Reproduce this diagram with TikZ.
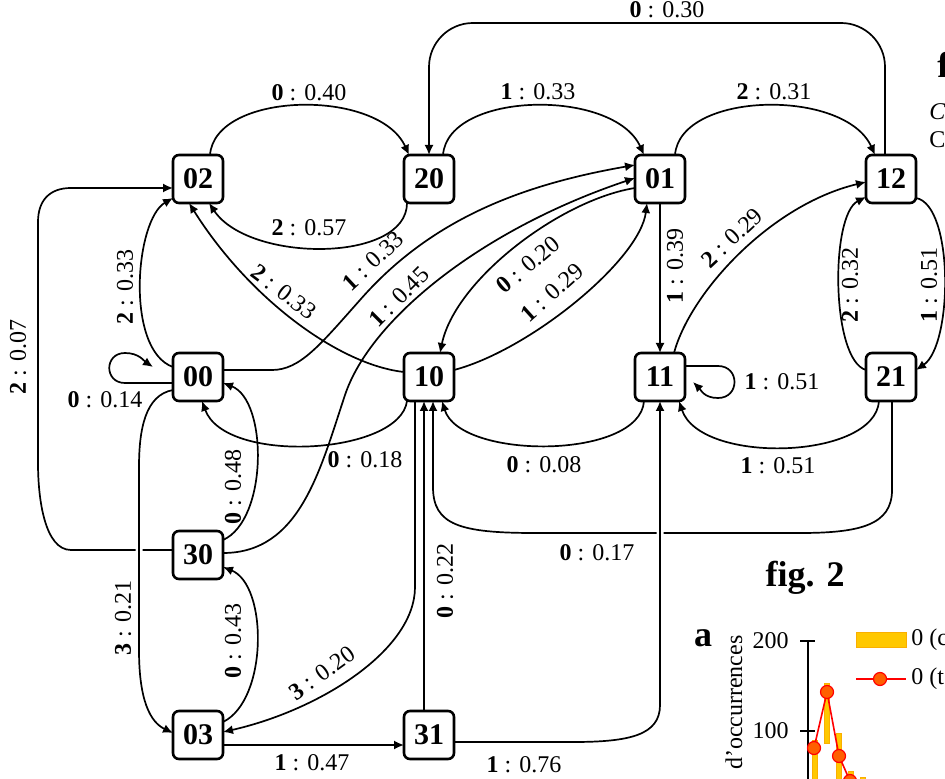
\documentclass[tikz,border=0pt]{standalone}
\usepackage{fontspec}
\setmainfont{Liberation Serif}
\usetikzlibrary{arrows.meta,positioning,calc,backgrounds}
\definecolor{barfill}{RGB}{255,200,0}
\definecolor{baredge}{RGB}{250,175,0}
\definecolor{dotfill}{RGB}{255,95,0}
\definecolor{dotline}{RGB}{255,0,0}
\newcommand{\tlab}[2]{\textbf{#1} : #2}

\begin{document}
\begin{tikzpicture}[
    x=0.5pt, y=0.5pt,
    node distance=75pt and 90.5pt,
    statebox/.style={rectangle, rounded corners=3pt, draw, line width=1.3pt, fill=white, outer sep=0pt,
                 minimum width=25pt, minimum height=24pt, inner sep=0pt, font=\fontsize{15}{15}\selectfont\bfseries},
    lbl/.style={inner sep=0pt, font=\fontsize{12}{12}\selectfont},
    bigtxt/.style={inner sep=0pt, font=\fontsize{18}{18}\selectfont\bfseries},
    arr/.style={-{Latex[length=5pt,width=4.5pt]}, line width=0.85pt},
    overpass/.style={preaction={draw=white, line width=3.5pt}}
]
\useasboundingbox (0,0) rectangle (945,-779);
\node[statebox] (n02) at (198,-179) {02};
\node[statebox, right=of n02] (n20) {20};
\node[statebox, right=of n20] (n01) {01};
\node[statebox, right=of n01] (n12) {12};
\node[statebox, below=of n02] (n00) {00};
\node[statebox, right=of n00] (n10) {10};
\node[statebox, right=of n10] (n11) {11};
\node[statebox, right=of n11] (n21) {21};
\node[statebox, below=65pt of n00] (n30) {30};
\node[statebox, below=66pt of n30] (n03) {03};
\node[statebox, right=of n03] (n31) {31};

\begin{scope}[on background layer]
\draw[arr] ($(n02.north)+(12,0)$) .. controls +(5,64) and +(-30,67) .. ($(n20.north)+(-20,0)$)
    node[lbl] at (309,-93) {\tlab{0}{0.40}};
\draw[arr] ($(n20.south)+(-22,0)$) .. controls +(0,-60) and +(40,-60) .. ($(n02.south)+(11,0)$)
    node[lbl] at (309,-228) {\tlab{2}{0.57}};
\draw[arr] ($(n20.north)+(14,0)$) .. controls +(5,64) and +(-30,67) .. ($(n01.north)+(-16,0)$)
    node[lbl] at (538,-92) {\tlab{1}{0.33}};
\draw[arr] ($(n01.north)+(15,0)$) .. controls +(5,64) and +(-30,67) .. ($(n12.north)+(-16,0)$)
    node[lbl] at (774,-92) {\tlab{2}{0.31}};
\draw[arr, rounded corners=22pt] ($(n12.north)+(-6,0)$) |- ($(n20.north)+(0,132)$) -- (n20.north)
    node[lbl] at (667,-10) {\tlab{0}{0.30}};
\draw[arr] ($(n12.south east)+(0,5)$) .. controls +(38,-7) and +(37,25) .. ($(n21.east)+(0,7)$)
    node[lbl, rotate=90] at (929,-285) {\tlab{1}{0.51}};
\draw[arr] ($(n21.west)+(0,7)$) .. controls +(-35,10) and +(-36,-18) .. ($(n12.west)+(0,-18)$)
    node[lbl, rotate=90] at (850,-285) {\tlab{2}{0.32}};
\draw[arr] ($(n11.east)+(0,11)$) -- ++(33,0) .. controls +(22,0) and +(22,0) .. ++(0,-32)
    .. controls +(-14,0) and +(8,-8) .. ($(n11.east)+(8,-5)$)
    node[lbl] at (782,-382) {\tlab{1}{0.51}};
\draw[arr] (n01) -- (n11)
    node[lbl, rotate=90] at (675,-266) {\tlab{1}{0.39}};
\draw[arr] ($(n11.north)+(14,0)$) .. controls +(16,60) and +(-96,-23) .. ($(n12.west)+(0,-3)$)
    node[lbl, rotate=43] at (732,-238) {\tlab{2}{0.29}};
\draw[arr] ($(n10.east)+(0,7)$) .. controls +(76,20) and +(-7,-57) .. ($(n01.south)+(-13,0)$)
    node[lbl, rotate=42] at (552,-293) {\tlab{1}{0.29}};
\draw[arr] ($(n01.west)+(0,-9)$) .. controls +(-75,-12) and +(15,73) .. ($(n10.north)+(11,0)$)
    node[lbl, rotate=40] at (528,-265) {\tlab{0}{0.20}};
\draw[arr] ($(n00.east)+(0,7)$) -- (272,-370) .. controls (300,-370) and (320,-345) .. (360,-300)
    .. controls (430,-220) and (520,-185) .. ($(n01.west)+(0,14)$)
    node[lbl, rotate=43] at (373,-261) {\tlab{1}{0.33}};
\draw[arr] ($(n30.east)+(0,2)$) .. controls (300,-553) and (320,-470) .. (345,-395)
    .. controls (370,-320) and (480,-230) .. ($(n01.west)+(0,1)$)
    node[lbl, rotate=45] at (399,-297) {\tlab{1}{0.45}};
\draw[arr] ($(n10.west)+(0,5)$) .. controls (340,-365) and (250,-300) .. ($(n02.south)+(-9,0)$)
    node[lbl, rotate=-37] at (284,-292) {\tlab{2}{0.33}};
\draw[arr] ($(n00.west)+(0,10)$) .. controls +(-48,17) and +(-38,-22) .. ($(n02.south west)+(0,5)$)
    node[lbl, rotate=90] at (125,-287) {\tlab{2}{0.33}};
\draw[arr] ($(n30.west)+(0,5)$) -- (71,-550) .. controls (45,-550) and (38,-500) .. (38,-463) -- (38,-222)
    .. controls (38,-200) and (50,-188) .. (71,-188) -- ($(n02.west)+(0,-9)$)
    node[lbl, rotate=90] at (18,-357) {\tlab{2}{0.07}};
\draw[arr] ($(n00.west)+(0,-6)$) -- ++(-48,0) .. controls +(-21,0) and +(-21,0) .. ++(0,30)
    .. controls +(14,0) and +(-9,6) .. ($(n00.west)+(-20,10)$)
    node[lbl] at (105,-400) {\tlab{0}{0.14}};
\draw[arr, overpass] ($(n00.west)+(0,-13)$) .. controls (145,-395) and (139,-430) .. (139,-467) -- (139,-650)
    .. controls (139,-700) and (150,-722) .. ($(n03.west)+(0,2)$)
    node[lbl, rotate=90] at (123,-618) {\tlab{3}{0.21}};
\draw[arr] ($(n30.east)+(0,15)$) .. controls (268,-520) and (268,-400) .. ($(n00.east)+(0,-6)$)
    node[lbl, rotate=90] at (233,-487) {\tlab{0}{0.48}};
\draw[arr] ($(n10.south)+(-22,0)$) .. controls (400,-455) and (225,-465) .. ($(n00.south)+(4,0)$)
    node[lbl] at (365,-460) {\tlab{0}{0.18}};
\draw[arr] ($(n03.east)+(0,13)$) .. controls (268,-700) and (268,-585) .. ($(n30.east)+(0,-12)$)
    node[lbl, rotate=90] at (233,-641) {\tlab{0}{0.43}};
\draw[arr] ($(n10.south)+(-14,0)$) -- (415,-587) .. controls (415,-650) and (320,-710) .. ($(n03.east)+(0,3)$)
    node[lbl, rotate=36] at (322,-673) {\tlab{3}{0.20}};
\draw[arr] ($(n31.north)+(-5,0)$) -- ($(n10.south)+(-5,0)$)
    node[lbl, rotate=90] at (445,-581) {\tlab{0}{0.22}};
\draw[arr] ($(n11.south)+(-16,0)$) .. controls (640,-460) and (460,-460) .. ($(n10.south)+(13,0)$)
    node[lbl] at (544,-465) {\tlab{0}{0.08}};
\draw[arr] ($(n21.south)+(-12,0)$) .. controls (875,-460) and (700,-465) .. ($(n11.south)+(19,0)$)
    node[lbl] at (778,-466) {\tlab{1}{0.51}};
\draw[arr] ($(n21.south)+(1,0)$) -- (892,-490) .. controls (892,-525) and (860,-533) .. (800,-533) -- (535,-533)
    .. controls (460,-533) and (433,-525) .. (433,-487) -- ($(n10.south)+(4,0)$)
    node[lbl] at (597,-553) {\tlab{0}{0.17}};
\draw[arr, overpass] ($(n31.east)+(0,-7)$) -- (573,-742) .. controls (630,-742) and (660,-735) .. (660,-705) -- (n11.south)
    node[lbl] at (524,-765) {\tlab{1}{0.76}};
\draw[arr] ($(n03.east)+(0,-10)$) -- ($(n31.west)+(0,-10)$)
    node[lbl] at (312,-763) {\tlab{1}{0.47}};
\end{scope}

\node[bigtxt, anchor=base west] (fig1) at (937,-78) {f};
\node[lbl, anchor=west] (capa) at (929,-112) {\textit{C}};
\node[lbl, anchor=west] (capb) at (929,-140) {C};

\node[bigtxt] (fig2) at (805,-578) {fig. 2};
\node[bigtxt] (pa) at (703,-638) {a};
\node[lbl, rotate=90, anchor=east] (ylab) at (734,-635) {d’occurrences};
\node[lbl, anchor=east] (t200) at (789,-641) {200};
\node[lbl, anchor=east] (t100) at (789,-731) {100};
\draw[line width=0.6pt] (808,-641) -- (808,-790);
\draw[line width=0.6pt] (800,-641) -- (815,-641);
\draw[line width=0.6pt] (800,-731) -- (815,-731);
\foreach \xl/\h in {812/740, 824/683, 836/733, 848/771, 860/777}
    \filldraw[fill=barfill, draw=baredge, line width=0.3pt] (\xl,-\h) rectangle ++(5,-60);
\draw[dotline, line width=0.8pt] (814,-748) -- (827,-692) -- (839,-756) -- (850,-781) -- (862,-795);
\foreach \px/\py in {814/748, 827/692, 839/756, 850/781}
    \filldraw[fill=dotfill, draw=dotline, line width=0.6pt] (\px,-\py) circle (6.5);
\filldraw[fill=barfill, draw=baredge, line width=0.3pt] (856,-632) rectangle (906,-647);
\node[lbl, anchor=west] (legc) at (911,-640) {0 (c};
\draw[dotline, line width=0.8pt] (856,-679) -- (906,-679);
\filldraw[fill=dotfill, draw=dotline, line width=0.6pt] (880,-679) circle (6.5);
\node[lbl, anchor=west] (legt) at (911,-679) {0 (t};
\end{tikzpicture}
\end{document}
